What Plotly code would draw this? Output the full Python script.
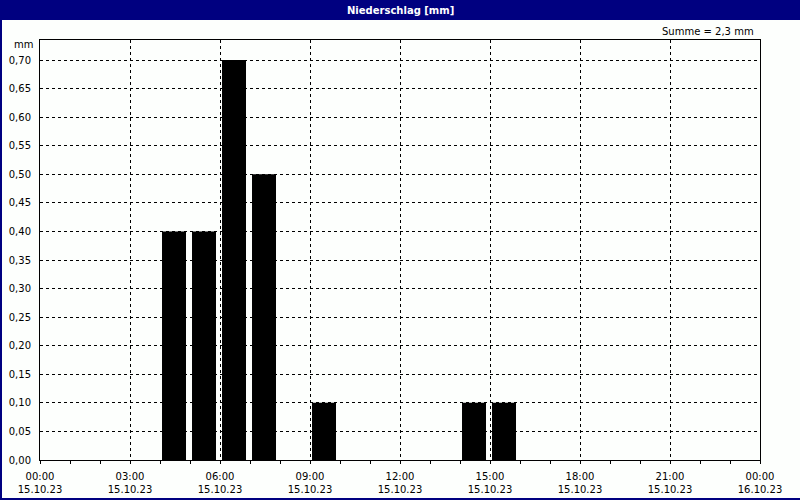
import plotly.graph_objects as go

# ---- data ----
hours = [4, 5, 6, 7, 9, 14, 15]            # hour start (15.10.23)
precip = [0.4, 0.4, 0.7, 0.5, 0.1, 0.1, 0.1]  # mm
tick_hours = [0, 3, 6, 9, 12, 15, 18, 21, 24]
tick_labels = ["00:00<br>15.10.23", "03:00<br>15.10.23", "06:00<br>15.10.23",
               "09:00<br>15.10.23", "12:00<br>15.10.23", "15:00<br>15.10.23",
               "18:00<br>15.10.23", "21:00<br>15.10.23", "00:00<br>16.10.23"]
y_ticks = [round(i * 0.05, 2) for i in range(15)]

W, H = 800, 500
L, R, T, B = 40, 40, 40, 40
PW, PH = W - L - R, H - T - B
NAVY = "#000080"
FONT = "DejaVu Sans"


def px_x(x):
    return (x - L) / PW


def px_y(y):
    return 1 - (y - T) / PH


fig = go.Figure()
fig.add_trace(go.Bar(
    x=hours, y=precip, width=0.8, offset=0.067,
    marker=dict(color="black", line=dict(width=0)),
    hoverinfo="x+y",
))

total = sum(precip)

fig.update_layout(
    width=W, height=H,
    margin=dict(l=L, r=R, t=T, b=B, pad=0),
    paper_bgcolor="#fdfffd",
    plot_bgcolor="#fdfffd",
    separators=",.",
    showlegend=False,
    font=dict(family=FONT, size=10, color="black"),
    xaxis=dict(
        range=[0, 24], tickmode="array", tickvals=tick_hours, ticktext=tick_labels,
        showgrid=True, gridcolor="black", gridwidth=1, griddash="3px,3px",
        showline=True, linecolor="black", linewidth=1, mirror=True,
        ticks="", zeroline=False, automargin=False, ticklabelstandoff=7,
        minor=dict(dtick=1, tick0=0, ticks="outside", ticklen=3, tickcolor="black", showgrid=False),
        tickfont=dict(family=FONT, size=10),
    ),
    yaxis=dict(
        range=[0, 0.735], tickmode="array", tickvals=y_ticks, tickformat=".2f",
        showgrid=True, gridcolor="black", gridwidth=1, griddash="3px,3px",
        showline=True, linecolor="black", linewidth=1, mirror=True,
        ticks="", ticklabelstandoff=6, zeroline=False, automargin=False,
        tickfont=dict(family=FONT, size=10),
    ),
    shapes=[
        dict(type="rect", xref="paper", yref="paper",
             x0=px_x(0), x1=px_x(W), y0=px_y(20), y1=px_y(0),
             fillcolor=NAVY, line=dict(width=0), layer="above"),
        dict(type="line", xref="paper", yref="paper",
             x0=px_x(1), x1=px_x(1), y0=px_y(0), y1=px_y(H),
             line=dict(color=NAVY, width=2)),
        dict(type="line", xref="paper", yref="paper",
             x0=px_x(0), x1=px_x(W), y0=px_y(H - 1), y1=px_y(H - 1),
             line=dict(color=NAVY, width=2)),
    ],
    annotations=[
        dict(text="<b>Niederschlag [mm]</b>", xref="paper", yref="paper",
             x=0.5, y=px_y(10), showarrow=False, xanchor="center", yanchor="middle",
             font=dict(family=FONT, size=10, color="white")),
        dict(text=f"Summe = {total:.1f} mm".replace(".", ","), xref="paper", yref="paper",
             x=px_x(756), y=px_y(31), showarrow=False, xanchor="right", yanchor="middle",
             font=dict(family=FONT, size=10)),
        dict(text="mm", xref="paper", yref="paper",
             x=px_x(35), y=px_y(45), showarrow=False, xanchor="right", yanchor="middle",
             font=dict(family=FONT, size=10)),
    ],
)

fig.write_html("out.html", config={"displayModeBar": False},
               post_script="document.body.style.margin='0';document.body.style.overflow='hidden';")
